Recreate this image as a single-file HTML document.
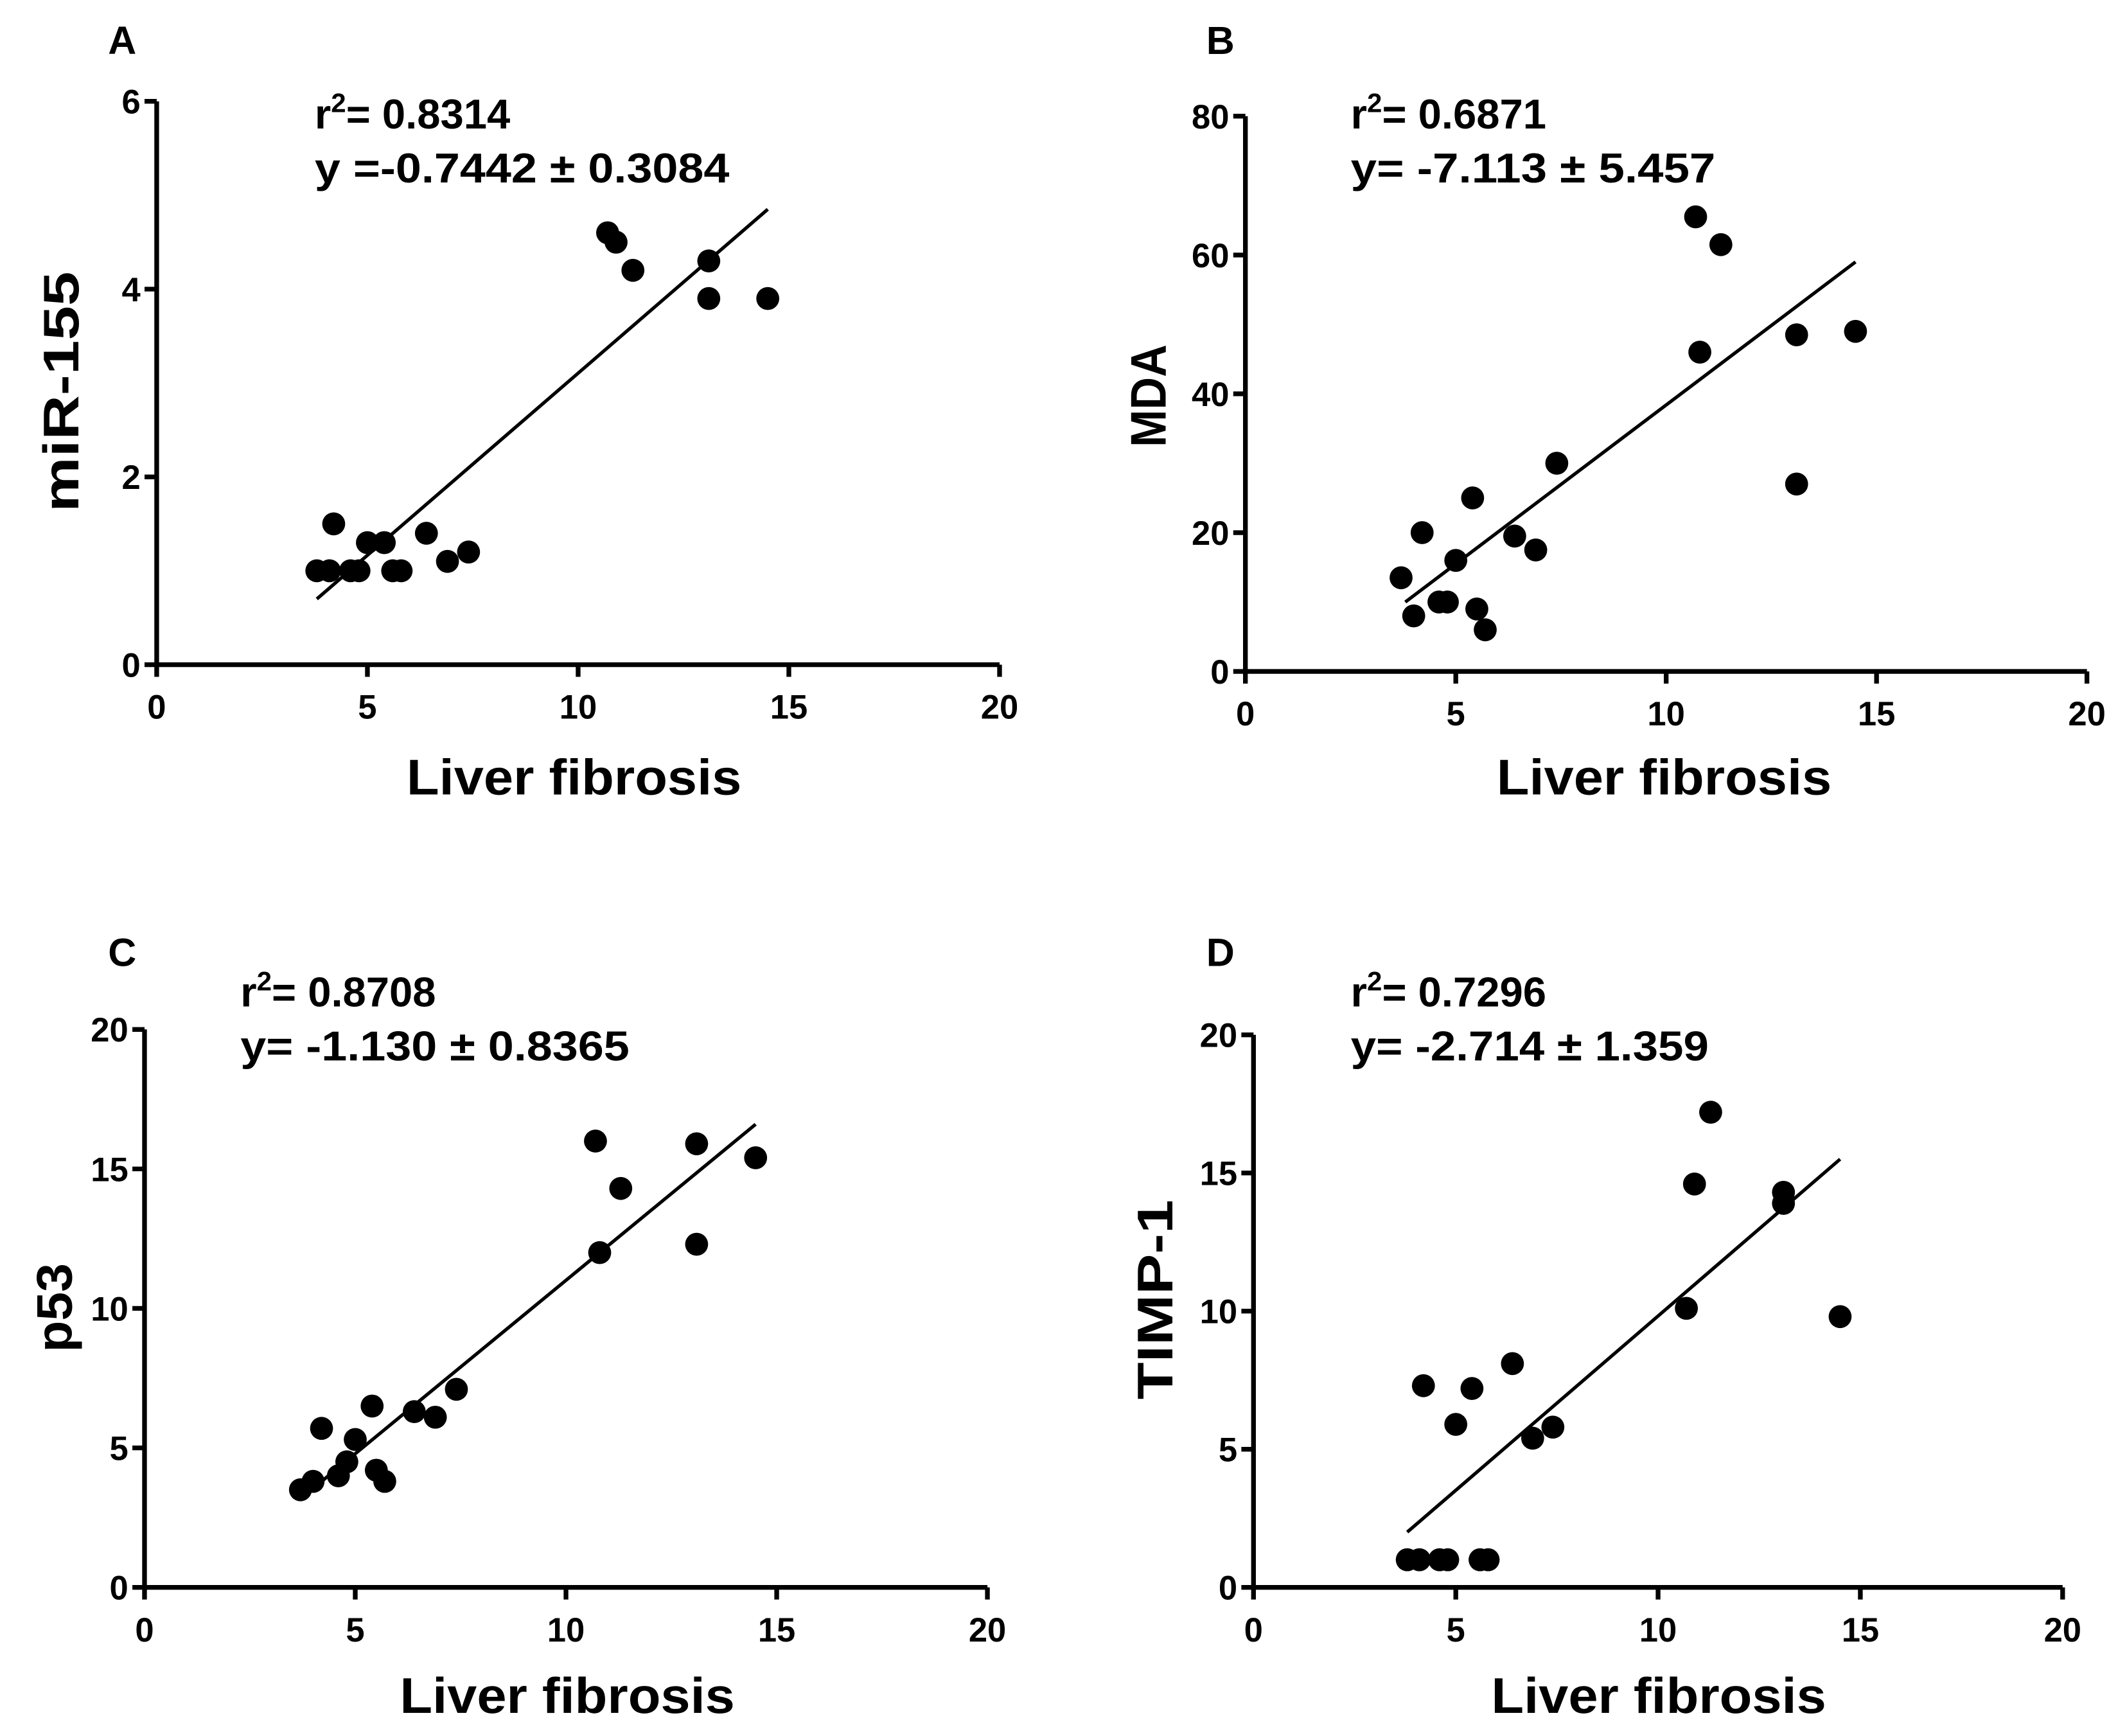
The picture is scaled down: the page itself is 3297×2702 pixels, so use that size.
<!DOCTYPE html>
<html><head><meta charset="utf-8"><style>
html,body{margin:0;padding:0;background:#fff;}
svg{display:block;}
text{font-family:"Liberation Sans",sans-serif;fill:#000;}
</style></head><body>
<svg id="fig" width="3297" height="2702" viewBox="0 0 1568 1285" xmlns="http://www.w3.org/2000/svg"></svg>
<script>
const xVals = [3.8,4.1,4.2,4.6,4.8,5.0,5.4,5.6,5.8,6.4,6.9,7.4,10.7,10.9,11.3,13.1,13.1,14.5];
const xValsB = [3.7,4.0,4.2,4.6,4.8,5.0,5.4,5.5,5.7,6.4,6.9,7.4,10.7,10.8,11.3,13.1,13.1,14.5];
const yA = [1.0,1.0,1.5,1.0,1.0,1.3,1.3,1.0,1.0,1.4,1.1,1.2,4.6,4.5,4.2,4.3,3.9,3.9];
const yB = [13.5,8,20,10,10,16,25,9,6,19.5,17.5,30,65.5,46,61.5,48.5,27,49];
const yC = [3.5,3.8,5.7,4.0,4.5,5.3,6.5,4.2,3.8,6.3,6.1,7.1,16,12,14.3,15.9,12.3,15.4];
const yD = [1,1,7.3,1,1,5.9,7.2,1,1,8.1,5.4,5.8,10.1,14.6,17.2,14.3,13.9,9.8];
const xTicks = [0,5,10,15,20];
const fitA = [[3.8,0.7],[14.5,4.85]];
const fitB = [[3.8,10],[14.5,59]];
const fitC = [[3.8,3.3],[14.5,16.6]];
const fitD = [[3.8,2],[14.5,15.5]];

const NS="http://www.w3.org/2000/svg";
const svg=document.getElementById('fig');
function mk(tag,attrs,parent,txt){const e=document.createElementNS(NS,tag);for(const k in attrs)e.setAttribute(k,attrs[k]);if(txt!==undefined)e.textContent=txt;(parent||svg).appendChild(e);return e;}

const panels=[
 {id:'a',letter:'A',xs:xVals,ys:yA,fit:fitA,x0:116,x1:740,yb:492,yt:75,ymax:6,yticks:[0,2,4,6],ytitle:'miR-155',ytl:178,ytx:45,yty:290,xtx:425,xty:588,ax:233,ay1:95,ay2:135,r2:'0.8314',eq:'y =-0.7442 \u00b1 0.3084',eql:307,lx:80,ly:40},
 {id:'b',letter:'B',xs:xValsB,ys:yB,fit:fitB,x0:922,x1:1545,yb:497,yt:86,ymax:80,yticks:[0,20,40,60,80],ytitle:'MDA',ytl:76,ytx:850,yty:293,xtx:1232,xty:588,ax:1000,ay1:95,ay2:135,r2:'0.6871',eq:'y= -7.113 \u00b1 5.457',eql:270,lx:893,ly:40},
 {id:'c',letter:'C',xs:xValsB,ys:yC,fit:fitC,x0:107,x1:731,yb:1175,yt:762,ymax:20,yticks:[0,5,10,15,20],ytitle:'p53',ytl:66,ytx:40,yty:968,xtx:420,xty:1268,ax:178,ay1:745,ay2:785,r2:'0.8708',eq:'y= -1.130 \u00b1 0.8365',eql:288,lx:80,ly:715},
 {id:'d',letter:'D',xs:xVals,ys:yD,fit:fitD,x0:928,x1:1527,yb:1175,yt:766,ymax:20,yticks:[0,5,10,15,20],ytitle:'TIMP-1',ytl:148,ytx:855,yty:962,xtx:1228,xty:1268,ax:1000,ay1:745,ay2:785,r2:'0.7296',eq:'y= -2.714 \u00b1 1.359',eql:265,lx:893,ly:715}
];

panels.forEach(p=>{
  const g=mk('g',{});
  
  
  const sx=v=>p.x0+(p.x1-p.x0)*v/20;
  const sy=v=>p.yb-(p.yb-p.yt)*v/p.ymax;
  const L=mk('text',{x:p.lx,y:p.ly,'font-size':29,'font-weight':'bold'},g,p.letter);
  
  
  const ya=mk('line',{x1:p.x0,y1:p.yt,x2:p.x0,y2:p.yb,stroke:'#000','stroke-width':3.5},g);
  
  
  const xa=mk('line',{x1:p.x0-1.5,y1:p.yb,x2:p.x1,y2:p.yb,stroke:'#000','stroke-width':3.5},g);
  
  
  xTicks.forEach(t=>{
    mk('line',{x1:sx(t),y1:p.yb,x2:sx(t),y2:p.yb+9,stroke:'#000','stroke-width':3.5},g);
    const tl=mk('text',{x:sx(t),y:p.yb+40,'font-size':25,'font-weight':'bold','text-anchor':'middle'},g,String(t));
    
    
  });
  p.yticks.forEach(t=>{
    mk('line',{x1:p.x0-9,y1:sy(t),x2:p.x0,y2:sy(t),stroke:'#000','stroke-width':3.5},g);
    const tl=mk('text',{x:p.x0-12,y:sy(t)+9,'font-size':25,'font-weight':'bold','text-anchor':'end'},g,String(t));
    
    
  });
  const yt=mk('text',{x:p.ytx,y:p.yty,'font-size':37,'font-weight':'bold','text-anchor':'middle',textLength:p.ytl,lengthAdjust:'spacingAndGlyphs',transform:`rotate(-90 ${p.ytx} ${p.yty})`,dy:13},g,p.ytitle);
  
  
  const xt=mk('text',{x:p.xtx,y:p.xty,'font-size':37,'font-weight':'bold','text-anchor':'middle',textLength:248,lengthAdjust:'spacingAndGlyphs'},g,'Liver fibrosis');
  
  
  const a1=mk('text',{x:p.ax,y:p.ay1,'font-size':31,'font-weight':'bold'},g);
  
  
  mk('tspan',{},a1,'r');
  mk('tspan',{dy:-12,'font-size':20},a1,'2');
  mk('tspan',{dy:12},a1,'= '+p.r2);
  const a2=mk('text',{x:p.ax,y:p.ay2,'font-size':31,'font-weight':'bold',textLength:p.eql,lengthAdjust:'spacingAndGlyphs'},g,p.eq);
  
  
  const fl=mk('line',{x1:sx(p.fit[0][0]),y1:sy(p.fit[0][1]),x2:sx(p.fit[1][0]),y2:sy(p.fit[1][1]),stroke:'#000','stroke-width':2.5},g);
  
  
  p.xs.forEach((xv,i)=>{
    const c=mk('circle',{cx:sx(xv),cy:sy(p.ys[i]),r:8.5,fill:'#000'},g);
    
    
  });
});
</script>
</body></html>
